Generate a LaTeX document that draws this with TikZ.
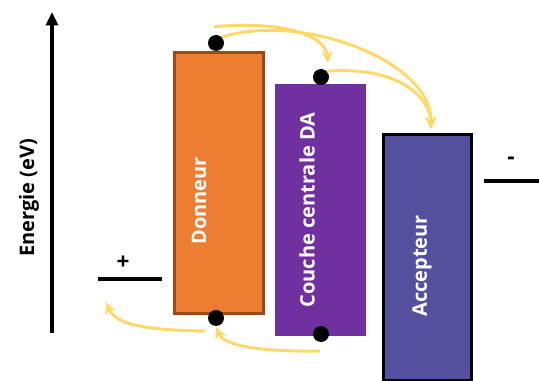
\documentclass[tikz,border=0pt]{standalone}
\usepackage{fontspec}
\setmainfont{Open Sans}
\usetikzlibrary{arrows.meta}
\definecolor{donor}{HTML}{ED7D31}
\definecolor{donorline}{HTML}{9A4A17}
\definecolor{central}{HTML}{7030A0}
\definecolor{acceptor}{HTML}{55509E}
\definecolor{flow}{HTML}{FFD966}
\tikzset{
  band/.style={rectangle, inner sep=0pt, anchor=north west},
  lbl/.style={text=white, font=\fontsize{15}{17}\selectfont\bfseries, rotate=90, inner sep=0pt},
  dot/.style={circle, fill=black, inner sep=0pt, minimum size=12pt},
  level/.style={line width=2.6pt},
  sign/.style={font=\fontsize{17}{19}\selectfont\bfseries, inner sep=0pt},
  flowarrow/.style={draw=flow, line width=2.2pt, -{Stealth[length=9pt,width=8.5pt,inset=3pt]}},
}
\begin{document}
\begin{tikzpicture}[x=0.75pt,y=-0.75pt]
\useasboundingbox (0,0) rectangle (539,381);
% energy axis
\draw[line width=3pt,-{Triangle[length=10pt,width=9pt]}] (52,333) coordinate (axb) -- (52,12) coordinate (axt);
\node[rotate=90, font=\fontsize{15}{17}\selectfont\bfseries, inner sep=0pt] (elbl) at (29,198) {Energie (eV)};
% bands
\node[band, draw=donorline, line width=2pt, fill=donor, minimum width=66.75pt, minimum height=195.75pt] (don) at (173,51) {};
\node[band, fill=central, minimum width=68.25pt, minimum height=189pt] (cen) at (275,84) {};
\node[band, draw=black, line width=2.5pt, fill=acceptor, minimum width=66pt, minimum height=184.5pt] (acc) at (382,133) {};
\node[lbl] (donl) at (199,201) {Donneur};
\node[lbl] (cenl) at (307,210) {Couche centrale DA};
\node[lbl] (accl) at (422,266) {Accepteur};
% levels
\coordinate (pl1) at (98,279); \coordinate (pl2) at (162,279);
\draw[level] (pl1) -- (pl2);
\node[sign] (plus) at (123,263) {+};
\coordinate (ml1) at (484,181); \coordinate (ml2) at (539,181);
\draw[level] (ml1) -- (ml2);
\node[sign] (minus) at (511,161) {-};
% dots
\node[dot] (d1) at (216,43) {};
\node[dot] (d2) at (321,77) {};
\node[dot] (d3) at (216,318) {};
\node[dot] (d4) at (321,334) {};
% free ends
\coordinate (t1) at (328,63);
\coordinate (t2) at (431,129);
\coordinate (t4) at (216,327);
\coordinate (t5) at (106,302);
\coordinate (s4) at (320,351);
\coordinate (s5) at (205,331);
% flows
\draw[flowarrow] (d1.north) ++(-2,-8) .. controls (290,20) and (326,38) .. (t1);
\draw[flowarrow] (d1.north east) .. controls (300,12) and (432,60) .. (t2);
\draw[flowarrow] (d2.north east) .. controls (400,66) and (430,98) .. (t2);
\draw[flowarrow] (s4) .. controls (262,352) and (224,346) .. (t4);
\draw[flowarrow] (s5) .. controls (150,330) and (116,326) .. (t5);
\end{tikzpicture}
\end{document}
